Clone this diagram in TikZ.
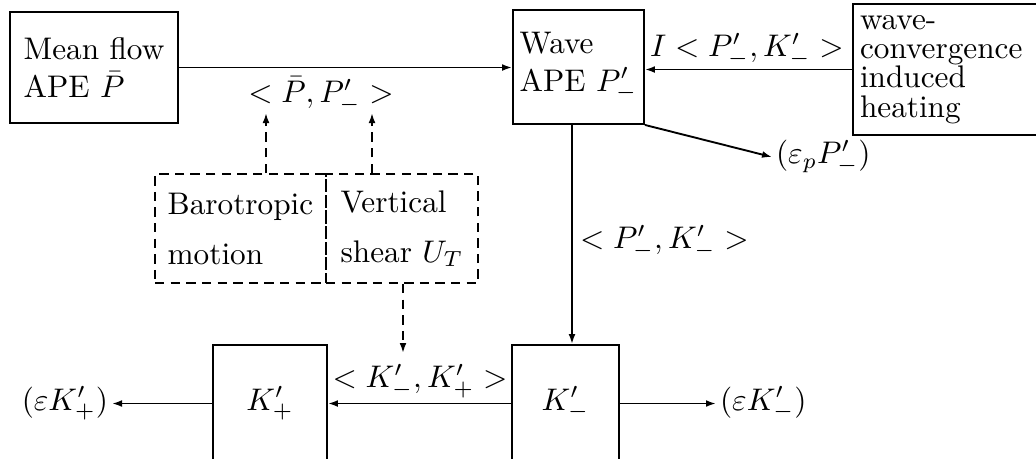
\documentclass[tikz,border=0pt]{standalone}
\usetikzlibrary{arrows.meta}
\begin{document}
\begin{tikzpicture}[x=0.32pt,y=-0.32pt,
  line width=0.6pt,
  box/.style={draw, line width=0.6pt, inner sep=0pt, align=left},
  dbox/.style={box, dashed, dash pattern=on 3pt off 2pt},
  lab/.style={inner sep=1pt},
  arr/.style={-{Latex[length=3.2pt,width=2.2pt]}},
  darr/.style={arr, dash pattern=on 3pt off 2pt}]
\useasboundingbox (0,0) rectangle (1036,458);
\clip (0,0) rectangle (1036,458);
% boxes
\node[box, minimum width=53.76pt, minimum height=35.52pt] (mean) at (94,67.5) {Mean flow\\APE $\bar{P}$};
\node[box, minimum width=41.92pt, minimum height=36.48pt] (wave) at (578.5,67) {Wave\\APE $P'_{-}$};
\node[box, minimum width=61.44pt, minimum height=41.92pt, text width=56.96pt, inner xsep=2.24pt] (heat) at (949,69.5)
  {wave-\\[-2.6pt]convergence\\[-2.6pt]induced\\[-2.6pt]heating};
\node[dbox, minimum width=54.72pt, minimum height=34.88pt] (baro) at (240.5,228.5) {Barotropic\\[4pt]motion};
\node[dbox, minimum width=48.64pt, minimum height=34.88pt] (vert) at (402,228.5) {Vertical\\[4pt]shear $U_T$};
\node[box, minimum width=36.48pt, minimum height=37.44pt, align=center] (kplus) at (270,403.5) {$K'_{+}$};
\node[box, minimum width=34.24pt, minimum height=37.44pt, align=center] (kminus) at (565.5,403.5) {$K'_{-}$};
% labels
\node[lab] (l1) at (321,95) {$<\bar{P},P'_{-}>$};
\node[lab] (l2) at (747,50) {$I<P'_{-},K'_{-}>$};
\node[lab, anchor=west] (l3) at (576,242) {$<P'_{-},K'_{-}>$};
\node[lab] (l4) at (420,381) {$<K'_{-},K'_{+}>$};
\node[lab, anchor=west] (ep) at (772,157) {$(\varepsilon_p P'_{-})$};
\node[lab, anchor=east] (ekp) at (112,403.5) {$(\varepsilon K'_{+})$};
\node[lab, anchor=west] (ekm) at (716,403.5) {$(\varepsilon K'_{-})$};
% helper coordinates
\coordinate (t1) at (266,113);
\coordinate (t2) at (372,113);
\coordinate (t3) at (403,353);
\coordinate (v) at (572,200);
% connectors
\draw[arr] (mean.east) -- (mean.east -| wave.west);
\draw[arr] (heat.west) -- (heat.west -| wave.east);
\draw[darr] (baro.north -| t1) -- (t1);
\draw[darr] (vert.north -| t2) -- (t2);
\draw[darr] (vert.south -| t3) -- (t3);
\draw[arr] (wave.south east) -- (ep.west);
\draw[arr] (wave.south -| v) -- (kminus.north -| v);
\draw[arr] (kminus.west) -- (kplus.east);
\draw[arr] (kplus.west) -- (ekp.east);
\draw[arr] (kminus.east) -- (ekm.west);
\end{tikzpicture}
\end{document}
